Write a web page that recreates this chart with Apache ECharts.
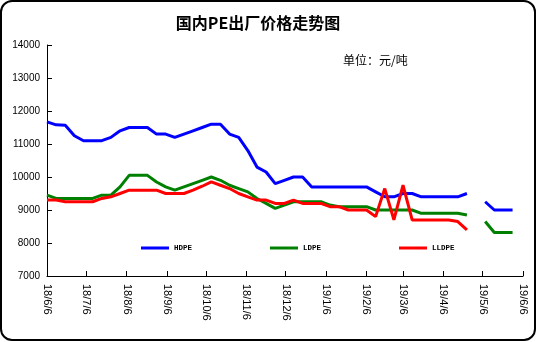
<!DOCTYPE html>
<html><head><meta charset="utf-8">
<script src="https://cdn.jsdelivr.net/npm/echarts@6/dist/echarts.min.js"></script>
<style>html,body{margin:0;padding:0;background:#fff}#c{width:538px;height:342px}</style>
</head><body><div id="c"></div>
<script>
// ---- data ----
const axisStart = '2018-06-06';
const axisEnd = '2019-06-06';
const weekDates = [
  '2018-06-06','2018-06-13','2018-06-20','2018-06-27','2018-07-04','2018-07-11','2018-07-18','2018-07-25',
  '2018-08-01','2018-08-08','2018-08-15','2018-08-22','2018-08-29','2018-09-05','2018-09-12','2018-09-19',
  '2018-09-26','2018-10-03','2018-10-10','2018-10-17','2018-10-24','2018-10-31','2018-11-07','2018-11-14',
  '2018-11-21','2018-11-28','2018-12-05','2018-12-12','2018-12-19','2018-12-26','2019-01-02','2019-01-09',
  '2019-01-16','2019-01-23','2019-01-30','2019-02-06','2019-02-13','2019-02-20','2019-02-27','2019-03-06',
  '2019-03-13','2019-03-20','2019-03-27','2019-04-03','2019-04-10','2019-04-17','2019-04-24','2019-05-01',
  '2019-05-08','2019-05-15','2019-05-22','2019-05-29'
];
const hdpe = [
  11670,11580,11570,11250,11100,11100,11100,11200,11400,11500,11500,11500,11300,11300,11200,11300,
  11400,11500,11600,11600,11300,11200,10800,10300,10150,9800,9900,10000,10000,9700,9700,9700,
  9700,9700,9700,9700,9550,9400,9400,9500,9500,9400,9400,9400,9400,9400,9500,null,
  9250,9000,9000,9000
];
const ldpe = [
  9450,9350,9350,9350,9350,9350,9450,9450,9700,10050,10050,10050,9850,9700,9600,9700,
  9800,9900,10000,9900,9750,9650,9550,9350,9200,9050,9150,9250,9250,9250,9250,9150,
  9100,9100,9100,9100,9000,9000,9000,9000,9000,8900,8900,8900,8900,8900,8850,null,
  8650,8320,8320,8320
];
const lldpe = [
  9300,9300,9250,9250,9250,9250,9350,9400,9500,9600,9600,9600,9600,9500,9500,9500,
  9600,9720,9850,9750,9650,9500,9400,9300,9300,9200,9200,9300,9200,9200,9200,9100,
  9100,9000,9000,9000,8800,9650,8700,9750,8700,8700,8700,8700,8700,8650,8400,null,
  null,null,null,null
];
const seriesNames = ['HDPE','LDPE','LLDPE'];
const seriesColors = ['#0000FF','#008000','#FF0000'];
const yMin = 7000, yMax = 14000, yStep = 1000;

// daily category axis
const days = [];
for (let t = Date.parse(axisStart + 'T00:00:00Z'); t <= Date.parse(axisEnd + 'T00:00:00Z'); t += 86400000) {
  days.push(new Date(t).toISOString().slice(0, 10));
}
const isTickDay = (i, v) => v.slice(8) === '06';
const fmtDate = v => { const p = v.split('-'); return p[0].slice(2) + '/' + (+p[1]) + '/' + (+p[2]); };
const pairs = vals => weekDates.map((d, i) => [d, vals[i] == null ? '-' : vals[i]]);

const chart = echarts.init(document.getElementById('c'), null, {renderer: 'canvas'});
const mkLegend = (name, left) => ({
  data: [name], left: left, top: 244, icon: 'rect', itemWidth: 28, itemHeight: 3,
  padding: 0, selectedMode: false,
  textStyle: {fontFamily: 'Liberation Mono', fontSize: 7.5, color: '#000', fontWeight: 'bold'}
});
chart.setOption({
  animation: false,
  backgroundColor: '#fff',
  grid: {left: 47, right: 15, top: 45, bottom: 66},
  legend: [mkLegend('HDPE', 141), mkLegend('LDPE', 270), mkLegend('LLDPE', 399)],
  xAxis: {
    type: 'category', data: days, boundaryGap: false,
    axisLine: {lineStyle: {color: '#000', width: 1}},
    axisTick: {show: true, inside: true, length: 5, interval: isTickDay, lineStyle: {color: '#000'}},
    axisLabel: {interval: isTickDay, formatter: fmtDate, rotate: -90, margin: 8,
      fontFamily: 'Liberation Sans', fontSize: 11, color: '#000'},
    splitLine: {show: false}
  },
  yAxis: {
    type: 'value', min: yMin, max: yMax, interval: yStep,
    axisLine: {show: true, lineStyle: {color: '#000', width: 1}},
    axisTick: {show: true, inside: true, length: 5, lineStyle: {color: '#000'}},
    axisLabel: {margin: 7, fontFamily: 'Liberation Sans', fontSize: 10, color: '#000',
      formatter: v => String(v)},
    splitLine: {show: false}
  },
  series: [hdpe, ldpe, lldpe].map((vals, i) => ({
    name: seriesNames[i], type: 'line', data: pairs(vals), symbol: 'none',
    connectNulls: false, color: seriesColors[i],
    lineStyle: {width: 3, color: seriesColors[i]}, itemStyle: {color: seriesColors[i]}
  })),
  graphic: [
    {type: 'rect', shape: {x: 1, y: 1, width: 534, height: 339, r: 11},
      style: {fill: 'none', stroke: '#000', lineWidth: 2}, z: 100},
    {type: 'text', x: 258, y: 23, style: {text: '国内PE出厂价格走势图', fontFamily: 'Noto Sans CJK SC',
      fontSize: 16, fontWeight: 'bold', fill: '#000', align: 'center', verticalAlign: 'middle'}},
    {type: 'text', x: 343, y: 60, style: {text: '单位：元/吨', fontFamily: 'Noto Sans CJK SC',
      fontSize: 12, fill: '#000', align: 'left', verticalAlign: 'middle'}}
  ]
});
</script></body></html>
